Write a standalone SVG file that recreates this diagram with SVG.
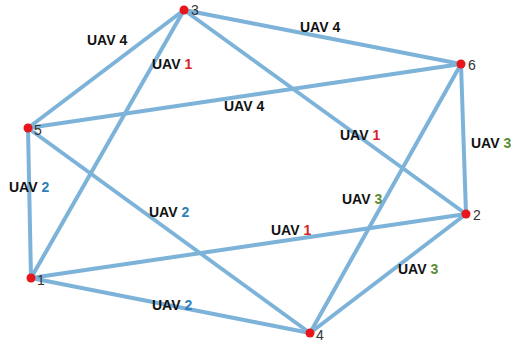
<svg xmlns="http://www.w3.org/2000/svg" width="511" height="346" viewBox="0 0 511 346">
<style>
.e{stroke:#7db3d9;stroke-width:4;stroke-linecap:round;fill:none}
.n{fill:#e8151b}
.nl{font-family:"Liberation Sans",Arial,sans-serif;font-size:14px;fill:#333}
.l{font-family:"Liberation Sans",Arial,sans-serif;font-size:14px;font-weight:bold;fill:#111}
.r{fill:#d9232a}.b{fill:#2d80b8}.g{fill:#5b8c32}
</style>
<rect width="511" height="346" fill="#fff"/>
<g id="connectors">
<line class="e" x1="184" y1="10" x2="28" y2="128"/>
<line class="e" x1="184" y1="10" x2="31" y2="278"/>
<line class="e" x1="184" y1="10" x2="461" y2="64"/>
<line class="e" x1="184" y1="10" x2="466" y2="214"/>
<line class="e" x1="28" y1="128" x2="461" y2="64"/>
<line class="e" x1="28" y1="128" x2="31" y2="278"/>
<line class="e" x1="28" y1="128" x2="310" y2="333"/>
<line class="e" x1="31" y1="278" x2="466" y2="214"/>
<line class="e" x1="31" y1="278" x2="310" y2="333"/>
<line class="e" x1="461" y1="64" x2="466" y2="214"/>
<line class="e" x1="461" y1="64" x2="310" y2="333"/>
<line class="e" x1="466" y1="214" x2="310" y2="333"/>
</g>
<g id="edge-labels">
<text class="l" x="87" y="45">UAV 4</text>
<text class="l" x="152" y="69">UAV <tspan class="r">1</tspan></text>
<text class="l" x="300" y="32">UAV 4</text>
<text class="l" x="224" y="111">UAV 4</text>
<text class="l" x="340" y="140">UAV <tspan class="r">1</tspan></text>
<text class="l" x="471" y="148">UAV <tspan class="g">3</tspan></text>
<text class="l" x="9" y="192">UAV <tspan class="b">2</tspan></text>
<text class="l" x="149" y="217">UAV <tspan class="b">2</tspan></text>
<text class="l" x="342" y="204">UAV <tspan class="g">3</tspan></text>
<text class="l" x="271" y="235">UAV <tspan class="r">1</tspan></text>
<text class="l" x="398" y="274">UAV <tspan class="g">3</tspan></text>
<text class="l" x="152" y="310">UAV <tspan class="b">2</tspan></text>
</g>
<g id="node-3"><circle class="n" cx="184" cy="10" r="4.5"/><text class="nl" x="191" y="15">3</text></g>
<g id="node-5"><circle class="n" cx="28" cy="128" r="4.5"/><text class="nl" x="34" y="135">5</text></g>
<g id="node-6"><circle class="n" cx="461" cy="64" r="4.5"/><text class="nl" x="468" y="70">6</text></g>
<g id="node-1"><circle class="n" cx="31" cy="278" r="4.5"/><text class="nl" x="37" y="285">1</text></g>
<g id="node-2"><circle class="n" cx="466" cy="214" r="4.5"/><text class="nl" x="473" y="220">2</text></g>
<g id="node-4"><circle class="n" cx="310" cy="333" r="4.5"/><text class="nl" x="316" y="340">4</text></g>
</svg>
